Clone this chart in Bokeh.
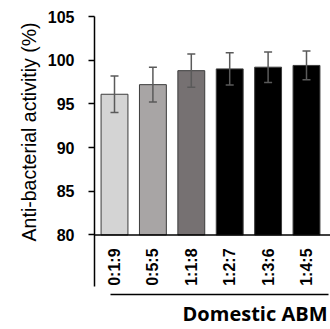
import math
from bokeh.plotting import figure
from bokeh.models import (ColumnDataSource, LinearAxis, FixedTicker, Span,
                          Whisker, TeeHead, Title, Range1d)
from bokeh.core.properties import value
from bokeh.embed import file_html
from bokeh.resources import INLINE

categories = ["0:1:9", "0:5:5", "1:1:8", "1:2:7", "1:3:6", "1:4:5"]
activity = [96.1, 97.2, 98.8, 99.0, 99.2, 99.4]
errors = [2.1, 2.0, 1.9, 1.85, 1.75, 1.65]
bar_colors = ["#d4d4d4", "#a8a5a5", "#767172", "#000000", "#000000", "#000000"]
y_ticks = [80, 85, 90, 95, 100, 105]
y_title = "Anti-bacterial activitiy (%)"
x_title = "Domestic ABM"

xs = list(range(len(categories)))
src = ColumnDataSource(dict(
    x=xs, top=activity, color=bar_colors, cat=categories,
    upper=[v + e for v, e in zip(activity, errors)],
    lower=[v - e for v, e in zip(activity, errors)],
    lab_y=[78.45] * len(categories),
))

p = figure(width=330, height=329, output_backend="svg", toolbar_location=None,
           x_axis_type=None, y_axis_type=None,
           x_range=Range1d(-0.521, 5.625), y_range=Range1d(73.18, 105),
           min_border_left=94, min_border_right=0, min_border_top=16,
           min_border_bottom=30)
p.outline_line_color = None
p.xgrid.visible = False
p.ygrid.visible = False
p.background_fill_color = "white"

yaxis = LinearAxis(ticker=FixedTicker(ticks=y_ticks), bounds=(74.1, 105))
yaxis.axis_line_width = 1.5
yaxis.axis_line_color = "black"
yaxis.major_tick_in = 0
yaxis.major_tick_out = 6
yaxis.major_tick_line_width = 1.5
yaxis.minor_tick_line_color = None
yaxis.major_label_standoff = 14
yaxis.major_label_text_align = "right"
yaxis.major_label_text_font = "Liberation Sans"
yaxis.major_label_text_font_style = "bold"
yaxis.major_label_text_font_size = "16px"
yaxis.major_label_text_color = "black"
p.add_layout(yaxis, "left")

xaxis = LinearAxis(ticker=FixedTicker(ticks=[]), bounds=(-0.104, 5.573))
xaxis.axis_line_width = 1.5
xaxis.axis_line_color = "black"
xaxis.major_tick_in = 0
xaxis.major_tick_out = 0
xaxis.minor_tick_in = 0
xaxis.minor_tick_out = 0
xaxis.major_label_standoff = 0
xaxis.axis_label_standoff = 0
xaxis.major_tick_line_color = None
xaxis.minor_tick_line_color = None
xaxis.major_label_text_font_size = "0px"
p.add_layout(xaxis, "below")

p.vbar(x="x", top="top", bottom=80, width=0.7, source=src,
       fill_color="color", line_color="#3c3c3c", line_width=1)

p.add_layout(Span(location=80, dimension="width", line_color="black", line_width=1.5))

head_u = TeeHead(size=8, line_color="#5a5a5a", line_width=1.5)
head_l = TeeHead(size=8, line_color="#5a5a5a", line_width=1.5)
p.add_layout(Whisker(source=src, base="x", upper="upper", lower="lower",
                     line_color="#5a5a5a", line_width=1.5,
                     upper_head=head_u, lower_head=head_l, level="overlay"))

p.text(x="x", y="lab_y", text="cat", source=src, angle=math.pi / 2,
       text_align="right", text_baseline="middle",
       text_font=value("Liberation Sans"), text_font_style="bold",
       text_font_size="16px", text_color="black")

p.add_layout(Title(text=x_title, align="right", offset=3, text_font="Open Sans",
                   text_font_style="bold", text_font_size="20px",
                   text_color="black", standoff=6), "below")
p.add_layout(Title(text=y_title, align="right", offset=6, standoff=10,
                   text_font="Liberation Sans", text_font_style="normal",
                   text_font_size="19.5px", text_color="black"), "left")

open("out.html", "w").write(file_html(p, INLINE))
